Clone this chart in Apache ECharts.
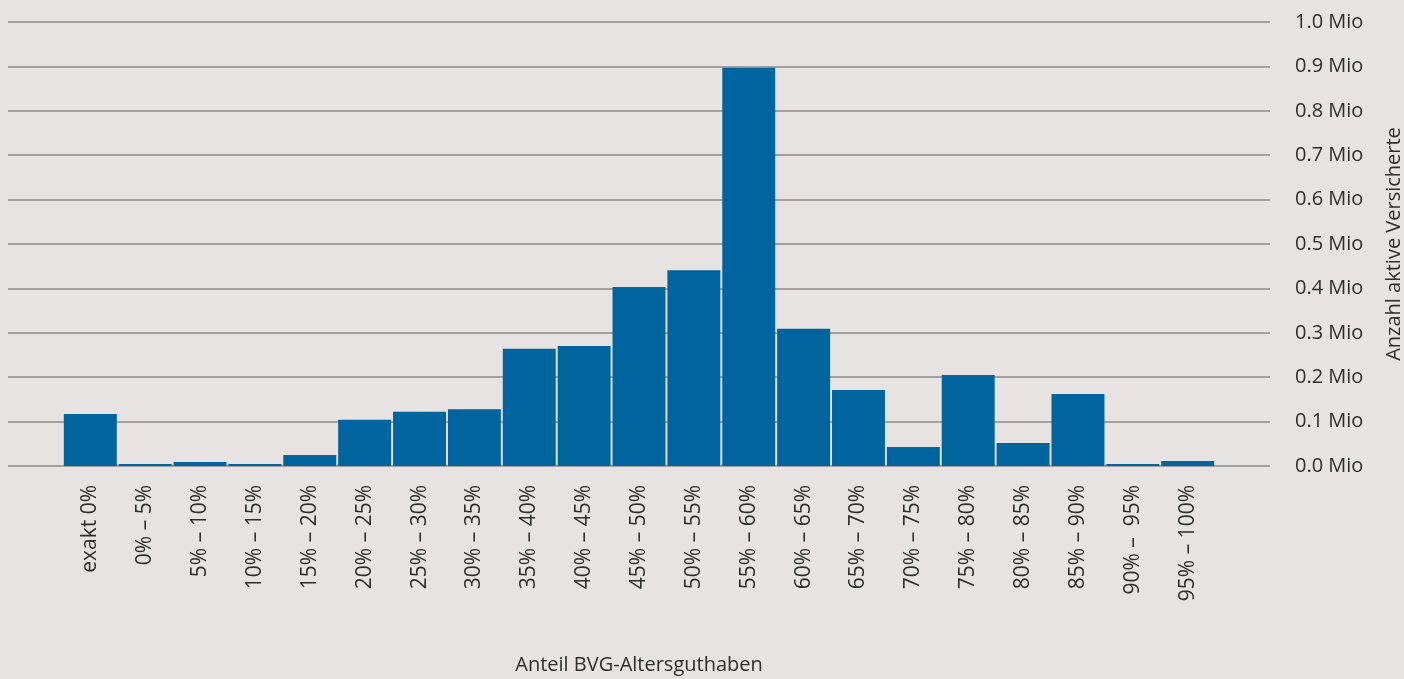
<!DOCTYPE html>
<html>
<head>
<meta charset="utf-8">
<script src="https://cdn.jsdelivr.net/npm/echarts@6/dist/echarts.min.js"></script>
<style>
html,body{margin:0;padding:0;background:#e6e3e2;}
#chart{width:1404px;height:679px;}
</style>
</head>
<body>
<div id="chart"></div>
<script>
const categories = ['exakt 0%','0% – 5%','5% – 10%','10% – 15%','15% – 20%','20% – 25%','25% – 30%','30% – 35%','35% – 40%','40% – 45%','45% – 50%','50% – 55%','55% – 60%','60% – 65%','65% – 70%','70% – 75%','75% – 80%','80% – 85%','85% – 90%','90% –  95%','95% – 100%'];
const values = [0.117,0.0045,0.009,0.0045,0.025,0.104,0.122,0.128,0.264,0.270,0.403,0.441,0.897,0.309,0.171,0.043,0.205,0.052,0.162,0.0045,0.011];
const yTicks = [0,0.1,0.2,0.3,0.4,0.5,0.6,0.7,0.8,0.9,1.0];

const axisCats = [''].concat(categories, ['']);
const axisVals = [null].concat(values, [null]);
const font = "'Open Sans', sans-serif";
const txt = '#2e2e2e';

const chart = echarts.init(document.getElementById('chart'));
chart.setOption({
  backgroundColor: '#e6e3e2',
  animation: false,
  grid: {left: 8, right: 134, top: 22, bottom: 213, containLabel: false, outerBoundsMode: 'none'},
  xAxis: {
    type: 'category',
    data: axisCats,
    axisLine: {show: false},
    axisTick: {show: false},
    axisLabel: {rotate: 90, interval: 0, margin: 19, fontSize: 21, fontFamily: font, fontWeight: 400, color: txt},
    name: 'Anteil BVG-Altersguthaben',
    nameLocation: 'middle',
    nameGap: 189,
    nameTextStyle: {fontSize: 20, fontFamily: font, fontWeight: 400, color: txt}
  },
  yAxis: {
    type: 'value',
    position: 'right',
    min: yTicks[0],
    max: yTicks[yTicks.length - 1],
    interval: 0.1,
    axisLine: {show: false},
    axisTick: {show: false},
    splitLine: {lineStyle: {color: '#a3a09f', width: 2}},
    axisLabel: {margin: 25, fontSize: 20, fontFamily: font, fontWeight: 400, color: txt,
      formatter: v => v.toFixed(1) + ' Mio'},
    name: 'Anzahl aktive Versicherte',
    nameLocation: 'middle',
    nameRotate: 90,
    nameGap: 114,
    nameTextStyle: {fontSize: 20, fontFamily: font, fontWeight: 400, color: txt}
  },
  series: [{
    type: 'bar',
    data: axisVals,
    barCategoryGap: '3.5%',
    itemStyle: {color: '#00649e'}
  }]
});
</script>
</body>
</html>
